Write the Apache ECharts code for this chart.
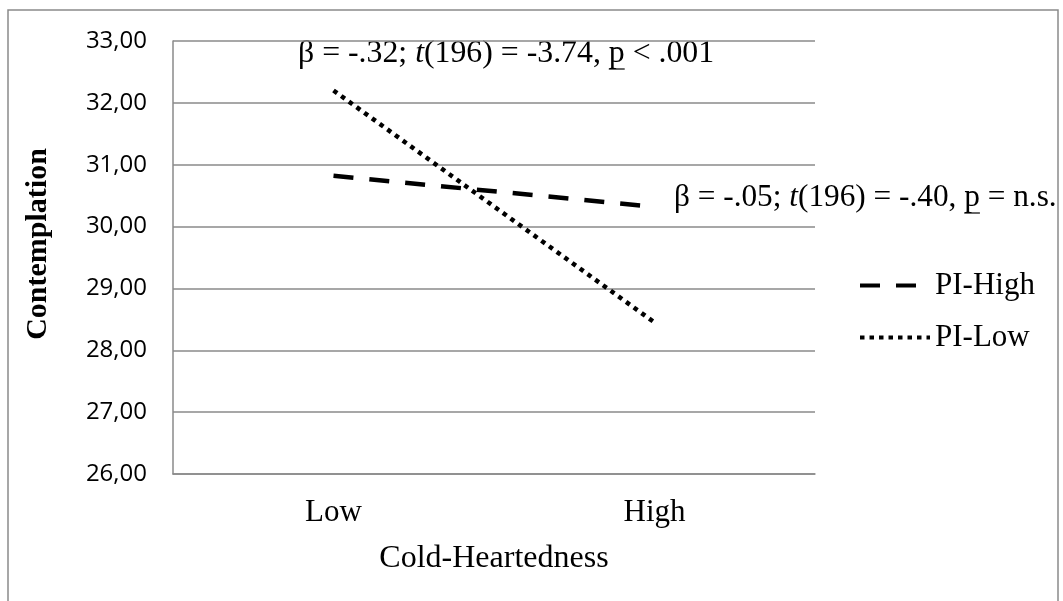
<!DOCTYPE html>
<html>
<head>
<meta charset="utf-8">
<script src="https://cdn.jsdelivr.net/npm/echarts@6/dist/echarts.min.js"></script>
<style>
html,body{margin:0;padding:0;background:#fff;}
#chart{width:1063px;height:601px;}
</style>
</head>
<body>
<div id="chart"></div>
<script>
// ---- data ----
const categories = ['Low', 'High'];
const piHigh = [30.82, 30.32];
const piLow = [32.20, 28.45];
const seriesNames = ['PI-High', 'PI-Low'];
const yMin = 26, yMax = 33, yInterval = 1;
const xTitle = 'Cold-Heartedness';
const yTitle = 'Contemplation';
// annotation pieces: [text, italic?, underline?]
const note1 = [['β = -.32; ', false, false], ['t', true, false], ['(196) = -3.74, ', false, false], ['p', false, true], [' < .001', false, false]];
const note2 = [['β = -.05; ', false, false], ['t', true, false], ['(196) = -.40, ', false, false], ['p', false, true], [' = n.s.', false, false]];

const SERIF = '"Liberation Serif", "Times New Roman", serif';
const SANS = '"Open Sans", sans-serif';
const GRAY = '#8a8a8a';

const chart = echarts.init(document.getElementById('chart'), null, {renderer: 'canvas'});

const mctx = document.createElement('canvas').getContext('2d');
function measure(str, italic, size) {
  mctx.font = (italic ? 'italic ' : '') + size + 'px ' + SERIF;
  return mctx.measureText(str).width;
}
function noteGraphics(pieces, x0, yMid, size) {
  const els = [];
  let x = x0;
  pieces.forEach(([s, it, ul]) => {
    const w = measure(s, it, size);
    els.push({
      type: 'text', x: x, y: yMid, silent: true,
      style: {text: s, fill: '#000', font: (it ? 'italic ' : '') + size + 'px ' + SERIF,
              align: 'left', verticalAlign: 'middle'}
    });
    if (ul) {
      els.push({type: 'line', silent: true,
        shape: {x1: x, y1: yMid + 15, x2: x + w, y2: yMid + 15},
        style: {stroke: '#000', lineWidth: 1.2}});
    }
    x += w;
  });
  return els;
}

const option = {
  animation: false,
  backgroundColor: '#fff',
  grid: {left: 173, right: 248, top: 41, bottom: 127, containLabel: false},
  xAxis: {
    type: 'category',
    data: categories,
    boundaryGap: true,
    axisLine: {show: true, lineStyle: {color: GRAY, width: 1.5}},
    axisTick: {show: false},
    axisLabel: {color: '#000', fontFamily: SERIF, fontSize: 31, margin: 23},
    name: xTitle,
    nameLocation: 'middle',
    nameGap: 69,
    nameTextStyle: {color: '#000', fontFamily: SERIF, fontSize: 32}
  },
  yAxis: {
    type: 'value',
    min: yMin, max: yMax, interval: yInterval,
    axisLine: {show: true, lineStyle: {color: GRAY, width: 1.5}},
    axisTick: {show: false},
    splitLine: {show: true, lineStyle: {color: GRAY, width: 1.5}},
    axisLabel: {color: '#000', fontFamily: SANS, fontSize: 24, margin: 26,
      formatter: v => v.toFixed(2).replace('.', ',')}
  },
  legend: {
    orient: 'vertical',
    left: 853, top: 265,
    itemWidth: 70, itemHeight: 10, itemGap: 21,
    data: seriesNames,
    lineStyle: {width: 4},
    itemStyle: {opacity: 0},
    textStyle: {color: '#000', fontFamily: SERIF, fontSize: 31}
  },
  series: [
    {
      name: seriesNames[0], type: 'line', data: piHigh,
      symbol: 'none', silent: true,
      lineStyle: {color: '#000', width: 4.5, type: [20, 16], cap: 'butt'},
      itemStyle: {color: '#000'}
    },
    {
      name: seriesNames[1], type: 'line', data: piLow,
      symbol: 'none', silent: true,
      lineStyle: {color: '#000', width: 4.5, type: [4.5, 5], cap: 'butt'},
      itemStyle: {color: '#000'}
    }
  ],
  graphic: [
    {type: 'rect', silent: true, z: -10,
     shape: {x: 8, y: 10, width: 1050, height: 640},
     style: {fill: 'none', stroke: GRAY, lineWidth: 1.5}},
    {type: 'text', silent: true, x: 38, y: 244, rotation: Math.PI / 2,
     style: {text: yTitle, fill: '#000', font: 'bold 30px ' + SERIF, align: 'center', verticalAlign: 'middle'}},
    ...noteGraphics(note1, 298, 54, 31.8),
    ...noteGraphics(note2, 674, 198, 31.3)
  ]
};
chart.setOption(option);
</script>
</body>
</html>
